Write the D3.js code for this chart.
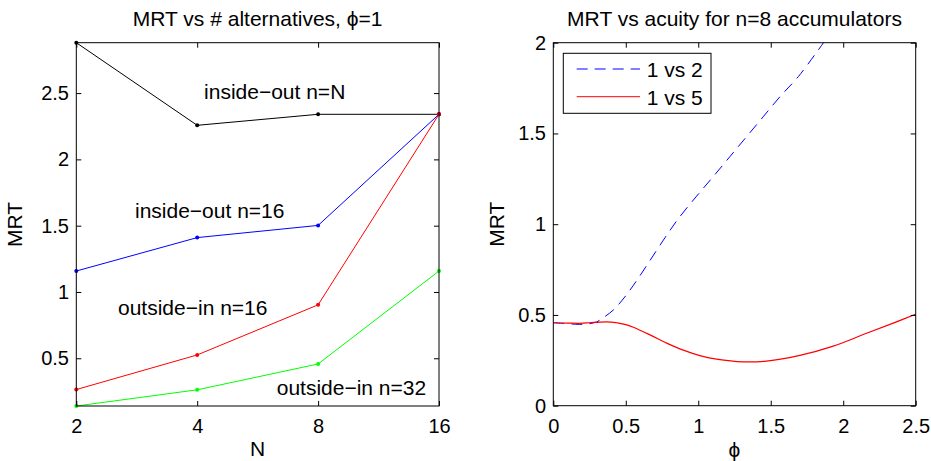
<!DOCTYPE html>
<html>
<head>
<meta charset="utf-8">
<script src="https://cdn.jsdelivr.net/npm/d3@7"></script>
<style>
  body { margin: 0; background: #fff; }
  text { font-family: "Liberation Sans", Arial, Helvetica, sans-serif; fill: #000; }
</style>
</head>
<body>
<svg id="fig" width="931" height="461"></svg>
<script>
// ---- Left panel: MRT against number of alternatives N (phi = 1) ----
const altCounts   = [2, 4, 8, 16];
const insideOutNN = [2.88, 2.257, 2.34, 2.34];
const insideOut16 = [1.158, 1.41, 1.502, 2.34];
const outsideIn16 = [0.264, 0.525, 0.903, 2.34];
const outsideIn32 = [0.14, 0.262, 0.457, 1.158];
const leftYTicks  = [0.5, 1, 1.5, 2, 2.5];

// text labels placed in data coordinates (N, MRT) at their left baseline
const seriesLabels = ["inside−out n=N", "inside−out n=16", "outside−in n=16", "outside−in n=32"];
const labelN   = [4.16, 2.80, 2.54, 6.31];
const labelMRT = [2.453, 1.56, 0.826, 0.224];

// ---- Right panel: MRT against acuity phi, n = 8 accumulators ----
const phi1v2 = [0, 0.1, 0.18, 0.25, 0.3, 0.345, 0.414, 0.471, 0.529, 0.586, 0.667,
                0.77, 0.862, 0.989, 1.103, 1.218, 1.333, 1.448, 1.563, 1.69, 1.828, 1.9];
const mrt1v2 = [0.457, 0.452, 0.448, 0.452, 0.462, 0.485, 0.527, 0.577, 0.637, 0.702, 0.80,
                0.925, 1.03, 1.155, 1.262, 1.372, 1.482, 1.592, 1.702, 1.813, 1.96, 2.04];
const phi1v5 = [0, 0.1, 0.184, 0.25, 0.322, 0.4, 0.437, 0.5, 0.552, 0.667, 0.782, 0.897,
                1.011, 1.126, 1.31, 1.471, 1.701, 1.931, 2.161, 2.345, 2.5];
const mrt1v5 = [0.457, 0.455, 0.454, 0.457, 0.461, 0.461, 0.457, 0.447, 0.432, 0.39, 0.345, 0.306,
                0.276, 0.257, 0.242, 0.246, 0.277, 0.328, 0.399, 0.455, 0.504];
const rightXTicks = [0, 0.5, 1, 1.5, 2, 2.5];
const rightYTicks = [0, 0.5, 1, 1.5, 2];
const legendNames = ["1 vs 2", "1 vs 5"];

const FONT = "'Liberation Sans', Arial, Helvetica, sans-serif";
const svg = d3.select("#fig");

function styleAxis(g, size) {
  g.attr("font-size", size).attr("font-family", FONT);
  g.select(".domain").remove();
  g.selectAll(".tick line").attr("stroke", "#000").attr("stroke-width", 1);
  g.selectAll(".tick text").attr("fill", "#000");
}

function drawFrame(x, y, xTicks, yTicks, xFmt, yFmt) {
  const [x0, x1] = x.range(), [y0, y1] = y.range();
  const bottom = svg.append("g").attr("transform", `translate(0,${y0})`)
    .call(d3.axisBottom(x).tickValues(xTicks).tickFormat(xFmt).tickSizeInner(-5).tickSizeOuter(0).tickPadding(12.8));
  styleAxis(bottom, 20);
  const top = svg.append("g").attr("transform", `translate(0,${y1})`)
    .call(d3.axisTop(x).tickValues(xTicks).tickFormat("").tickSizeInner(-5).tickSizeOuter(0));
  styleAxis(top, 20);
  const left = svg.append("g").attr("transform", `translate(${x0},0)`)
    .call(d3.axisLeft(y).tickValues(yTicks).tickFormat(yFmt).tickSizeInner(-5).tickSizeOuter(0).tickPadding(7.3));
  styleAxis(left, 20);
  const right = svg.append("g").attr("transform", `translate(${x1},0)`)
    .call(d3.axisRight(y).tickValues(yTicks).tickFormat("").tickSizeInner(-5).tickSizeOuter(0));
  styleAxis(right, 20);
  svg.append("rect")
    .attr("x", x0).attr("y", y1).attr("width", x1 - x0).attr("height", y0 - y1)
    .attr("fill", "none").attr("stroke", "#000").attr("stroke-width", 1);
}

function title(txt, cx, y) {
  svg.append("text").attr("x", cx).attr("y", y).attr("text-anchor", "middle")
    .attr("font-size", 21).text(txt);
}

// ================= Left panel =================
const xL = d3.scaleLog().base(2).domain([2, 16]).range([76.3, 439]);
const yL = d3.scaleLinear().domain([0.14, 2.88]).range([406, 42.7]);

const leftSeries = [
  { vals: insideOutNN, color: "#000000" },
  { vals: insideOut16, color: "#0000ff" },
  { vals: outsideIn16, color: "#ff0000" },
  { vals: outsideIn32, color: "#00ff00" }
];

const lineL = d3.line().x(d => xL(d[0])).y(d => yL(d[1]));
leftSeries.forEach(s => {
  const pts = altCounts.map((n, i) => [n, s.vals[i]]);
  svg.append("path").attr("d", lineL(pts))
    .attr("fill", "none").attr("stroke", s.color).attr("stroke-width", 1);
  svg.append("g").selectAll("circle").data(pts).join("circle")
    .attr("cx", d => xL(d[0])).attr("cy", d => yL(d[1])).attr("r", 2)
    .attr("fill", s.color);
});

drawFrame(xL, yL, altCounts, leftYTicks, d3.format("d"), d => String(d));

seriesLabels.forEach((t, i) => {
  svg.append("text").attr("x", xL(labelN[i])).attr("y", yL(labelMRT[i]))
    .attr("font-size", 21).text(t);
});

title("MRT vs # alternatives, ϕ=1", (xL.range()[0] + xL.range()[1]) / 2, 25.5);
svg.append("text").attr("x", 257.5).attr("y", 456).attr("text-anchor", "middle")
  .attr("font-size", 21).text("N");
svg.append("text").attr("transform", "translate(22,224.4) rotate(-90)")
  .attr("text-anchor", "middle").attr("font-size", 21).text("MRT");

// ================= Right panel =================
const xR = d3.scaleLinear().domain([0, 2.5]).range([553.3, 915.7]);
const yR = d3.scaleLinear().domain([0, 2]).range([405.7, 42.7]);

svg.append("defs").append("clipPath").attr("id", "clipR")
  .append("rect").attr("x", 553.3).attr("y", 42.7).attr("width", 915.7 - 553.3).attr("height", 405.7 - 42.7);

const lineR = d3.line().curve(d3.curveCatmullRom.alpha(0.5)).x(d => xR(d[0])).y(d => yR(d[1]));
const plotR = svg.append("g").attr("clip-path", "url(#clipR)");
plotR.append("path").attr("d", lineR(phi1v2.map((p, i) => [p, mrt1v2[i]])))
  .attr("fill", "none").attr("stroke", "#0000ff").attr("stroke-width", 1)
  .attr("stroke-dasharray", "11,7");
plotR.append("path").attr("d", lineR(phi1v5.map((p, i) => [p, mrt1v5[i]])))
  .attr("fill", "none").attr("stroke", "#ff0000").attr("stroke-width", 1.2);

drawFrame(xR, yR, rightXTicks, rightYTicks, d => String(d), d => String(d));

title("MRT vs acuity for n=8 accumulators", (xR.range()[0] + xR.range()[1]) / 2, 26);
svg.append("text").attr("x", 734.5).attr("y", 457).attr("text-anchor", "middle")
  .attr("font-size", 21).text("ϕ");
svg.append("text").attr("transform", "translate(504,224.2) rotate(-90)")
  .attr("text-anchor", "middle").attr("font-size", 21).text("MRT");

// legend
const leg = svg.append("g");
leg.append("rect").attr("x", 563.3).attr("y", 53.3).attr("width", 147.7).attr("height", 60)
  .attr("fill", "#fff").attr("stroke", "#000").attr("stroke-width", 1);
const legStyles = [
  { color: "#0000ff", dash: "11,7" },
  { color: "#ff0000", dash: null }
];
legendNames.forEach((name, i) => {
  const ly = 69 + i * 27.7;
  leg.append("line").attr("x1", 576.7).attr("x2", 640).attr("y1", ly).attr("y2", ly)
    .attr("stroke", legStyles[i].color).attr("stroke-width", 1)
    .attr("stroke-dasharray", legStyles[i].dash);
  leg.append("text").attr("x", 646.7).attr("y", ly + 8).attr("font-size", 21).text(name);
});
</script>
</body>
</html>
